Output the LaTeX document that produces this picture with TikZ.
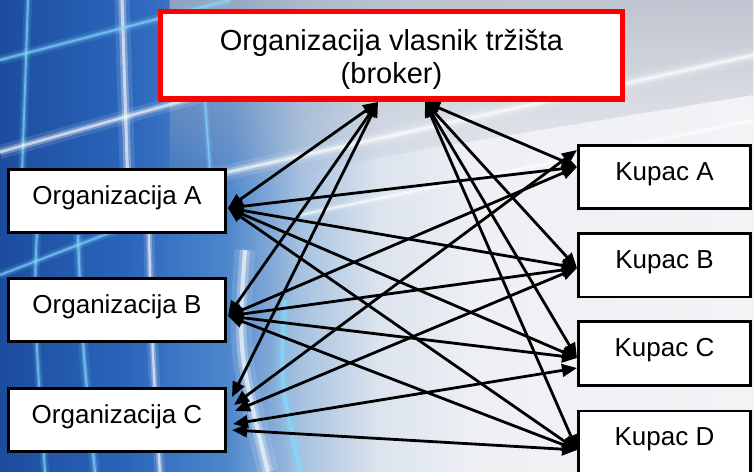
\documentclass[tikz,border=0pt]{standalone}
\usepackage{fontspec}
\setmainfont{Liberation Sans}
\usetikzlibrary{arrows.meta,fadings}

\definecolor{bgA}{HTML}{1C4C9E}
\definecolor{bgB}{HTML}{2B66BC}
\definecolor{bgC}{HTML}{5088CC}
\definecolor{bgD}{HTML}{A6C2E0}
\definecolor{bgE}{HTML}{DDE4EE}
\definecolor{bgF}{HTML}{EEF0F4}
\definecolor{bgG}{HTML}{F3F3F6}
\definecolor{haze}{HTML}{AEB5C3}
\definecolor{gridcyan}{HTML}{86DCFF}
\definecolor{brokerred}{HTML}{FF0000}

% soft glowing stroke: colour, width factor, path
\newcommand\glowpath[3]{%
  \draw[#1, line width=#2*7bp, opacity=0.12] #3;
  \draw[#1, line width=#2*3.5bp, opacity=0.28] #3;
  \draw[#1, line width=#2*1.4bp, opacity=0.6] #3;
}

\tikzset{
  orgbox/.style={draw=black, line width=2.6bp, fill=white,
    minimum width=217.4bp, minimum height=63.4bp, inner sep=0pt,
    font=\fontsize{26bp}{31bp}\selectfont, text height=18bp, text depth=11.4bp},
  kupbox/.style={orgbox, minimum width=172.4bp},
  brokerbox/.style={draw=brokerred, line width=5.5bp, fill=white,
    minimum width=461.5bp, minimum height=87.5bp, inner sep=0pt,
    font=\fontsize{29bp}{33.5bp}\selectfont, text height=22bp, text depth=32bp},
  link/.style={line width=2.8bp,
    {Triangle[length=15bp,width=12.5bp]}-{Triangle[length=15bp,width=12.5bp]}}
}

\begin{document}
\begin{tikzpicture}[x=1bp,y=-1bp]
\useasboundingbox (0,0) rectangle (754,472);
\clip (0,0) rectangle (754,472);

% ---- backdrop: blue on the left fading to pale grey on the right
\fill[left color=bgA, right color=bgB] (0,0) rectangle (130.5,472);
\fill[left color=bgB, right color=bgC] (130,0) rectangle (230.5,472);
\fill[left color=bgC, right color=bgD] (230,0) rectangle (300.5,472);
\fill[left color=bgD, right color=bgE] (300,0) rectangle (380.5,472);
\fill[left color=bgE, right color=bgF] (380,0) rectangle (480.5,472);
\fill[left color=bgF, right color=bgG] (480,0) rectangle (754,472);

% grey haze across the top
\fill[haze, opacity=0.75, path fading=south]
  (170,0) -- (754,0) -- (754,95) -- (420,150) -- (170,200) -- cycle;

% light streak running up to the right
\glowpath{white}{2.2}{(170,185) -- (754,55)}
\glowpath{white}{1.2}{(300,215) -- (754,120)}

% glowing grid, top left
\glowpath{gridcyan}{1.2}{(28,0) -- (22,175)}
\glowpath{white}{2.2}{(122,0) -- (128,190)}
\glowpath{gridcyan}{1.4}{(0,60) -- (230,0)}
\glowpath{white}{2}{(0,152) -- (300,68)}
\glowpath{gridcyan}{1.2}{(0,275) -- (130,225)}
\glowpath{gridcyan}{1}{(205,100) -- (210,170)}

% curved streaks, lower left
\glowpath{gridcyan}{1.2}{(40,175) .. controls (33,300) .. (45,472)}
\glowpath{gridcyan}{1.4}{(78,235) .. controls (82,340) .. (95,472)}
\glowpath{white}{1.6}{(148,180) .. controls (150,320) and (155,400) .. (160,472)}
\glowpath{white}{3}{(245,250) .. controls (238,350) .. (268,472)}
\glowpath{gridcyan}{2.2}{(285,300) .. controls (280,380) .. (300,472)}

% ---- boxes
\node[brokerbox] (broker) at (391.5,55.5)
  {\begin{tabular}[t]{@{}c@{}}Organizacija vlasnik tržišta\\(broker)\end{tabular}};

\node[orgbox] (orgA) at (117,201) {Organizacija A};
\node[orgbox] (orgB) at (117,310) {Organizacija B};
\node[orgbox] (orgC) at (117,420) {Organizacija C};

\node[kupbox] (kupA) at (664.5,177)   {Kupac A};
\node[kupbox] (kupB) at (664.5,265.5) {Kupac B};
\node[kupbox] (kupC) at (664.5,353.5) {Kupac C};
\node[kupbox] (kupD) at (664.5,442.5) {Kupac D};

% ---- connection points
\coordinate (bL) at ([xshift=-13.5bp]broker.south);
\coordinate (bR) at ([xshift=33.5bp]broker.south);

\coordinate (oA) at ([xshift=1bp,yshift=-7bp]orgA.east);
\coordinate (oB) at ([xshift=1bp,yshift=-6bp]orgB.east);
\coordinate (oC1) at ([xshift=5bp,yshift=23bp]orgC.east);
\coordinate (oC2) at ([xshift=7bp,yshift=15bp]orgC.east);
\coordinate (oC3) at ([xshift=8bp,yshift=9bp]orgC.east);
\coordinate (oC4) at ([xshift=6bp,yshift=-4bp]orgC.east);
\coordinate (oC5) at ([xshift=5bp,yshift=-10bp]orgC.east);

\coordinate (kA) at ([yshift=10bp]kupA.west);
\coordinate (kA2) at ([yshift=27bp]kupA.west);
\coordinate (kB) at ([yshift=-2.5bp]kupB.west);
\coordinate (kC) at ([yshift=-4.5bp]kupC.west);
\coordinate (kC2) at ([yshift=-14.5bp]kupC.west);
\coordinate (kD) at ([yshift=-7.5bp]kupD.west);

% ---- broker links
\draw[link] (bL) -- (oA);
\draw[link] (bL) -- (oB);
\draw[link] (bL) -- (oC1);
\draw[link] (bR) -- (kA);
\draw[link] (bR) -- (kB);
\draw[link] (bR) -- (kC);
\draw[link] (bR) -- (kD);

% ---- every organisation to every buyer
\foreach \k in {kA,kB,kC,kD} {
  \draw[link] (oA) -- (\k);
  \draw[link] (oB) -- (\k);
}
\draw[link] (oC2) -- (kA2);
\draw[link] (oC3) -- (kB);
\draw[link] (oC4) -- (kC2);
\draw[link] (oC5) -- (kD);
\end{tikzpicture}
\end{document}
